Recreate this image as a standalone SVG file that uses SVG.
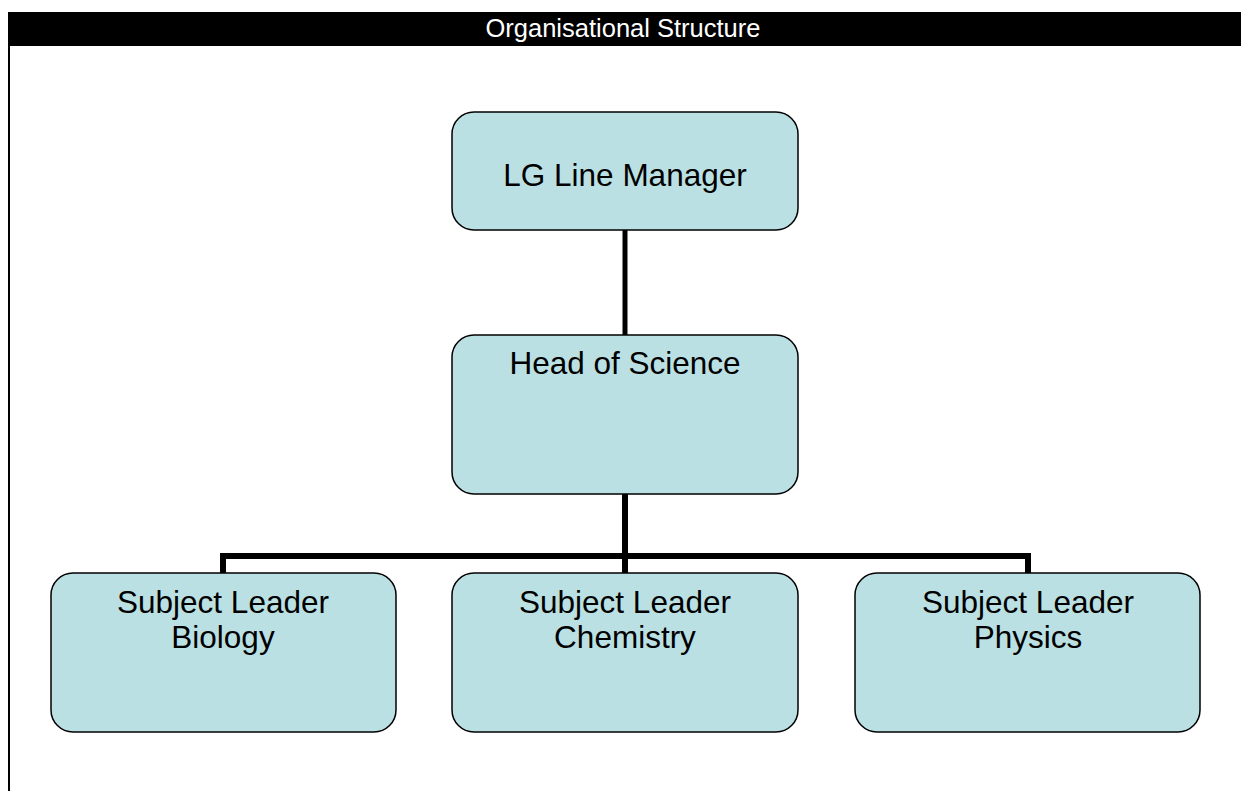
<svg xmlns="http://www.w3.org/2000/svg" width="1241" height="791" viewBox="0 0 1241 791">
  <style>
    .node rect { fill: #BBE0E3; stroke: #000; stroke-width: 1.5; }
    .node text { font-family: "Liberation Sans", Arial, sans-serif; font-size: 31.5px; fill: #000; text-anchor: middle; }
    .conn { stroke: #000; fill: none; stroke-linecap: butt; }
    .title { font-family: "Liberation Sans", Arial, sans-serif; font-size: 25.5px; fill: #fff; text-anchor: middle; }
  </style>
  <rect x="0" y="0" width="1241" height="791" fill="#fff"/>
  <g id="frame">
    <rect x="8" y="12" width="1233" height="34" fill="#000"/>
    <rect x="8" y="46" width="2" height="745" fill="#000"/>
    <text class="title" x="623" y="37">Organisational Structure</text>
  </g>
  <g id="connectors">
    <line class="conn" x1="625" y1="230" x2="625" y2="335" stroke-width="5"/>
    <line class="conn" x1="625" y1="494" x2="625" y2="573" stroke-width="6"/>
    <line class="conn" x1="220" y1="556" x2="1031" y2="556" stroke-width="6"/>
    <line class="conn" x1="223" y1="553" x2="223" y2="573" stroke-width="6"/>
    <line class="conn" x1="1028" y1="553" x2="1028" y2="573" stroke-width="6"/>
  </g>
  <g id="node-lg" class="node">
    <rect x="452" y="112" width="346" height="118" rx="22" ry="22"/>
    <text x="625" y="186">LG Line Manager</text>
  </g>
  <g id="node-head" class="node">
    <rect x="452" y="335" width="346" height="159" rx="22" ry="22"/>
    <text x="625" y="374">Head of Science</text>
  </g>
  <g id="node-biology" class="node">
    <rect x="51" y="573" width="345" height="159" rx="22" ry="22"/>
    <text x="223" y="613">Subject Leader</text>
    <text x="223" y="648">Biology</text>
  </g>
  <g id="node-chemistry" class="node">
    <rect x="452" y="573" width="346" height="159" rx="22" ry="22"/>
    <text x="625" y="613">Subject Leader</text>
    <text x="625" y="648">Chemistry</text>
  </g>
  <g id="node-physics" class="node">
    <rect x="855" y="573" width="345" height="159" rx="22" ry="22"/>
    <text x="1028" y="613">Subject Leader</text>
    <text x="1028" y="648">Physics</text>
  </g>
</svg>
